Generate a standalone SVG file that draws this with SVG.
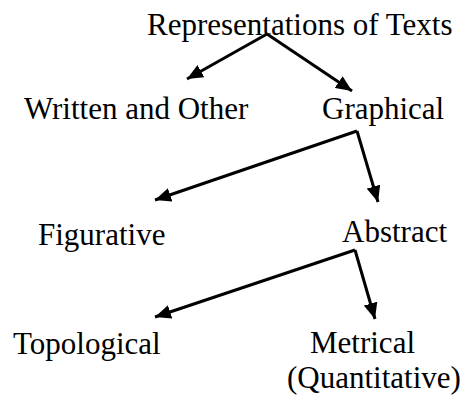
<svg xmlns="http://www.w3.org/2000/svg" width="462" height="398" viewBox="0 0 462 398">
<style>
.t { font-family: 'Liberation Serif', 'Times New Roman', 'DejaVu Serif', serif; font-size: 31px; fill: #000; }
.c { stroke: #000; stroke-width: 3; fill: none; marker-end: url(#ah); }
</style>
<defs>
<marker id="ah" markerUnits="userSpaceOnUse" markerWidth="16" markerHeight="14" refX="16" refY="7" orient="auto">
<path d="M0,0 L16,7 L0,14 z" fill="#000"/>
</marker>
</defs>
<rect width="462" height="398" fill="#fff"/>
<g id="connectors">
<line class="c" x1="267" y1="34" x2="187" y2="79"/>
<line class="c" x1="267" y1="34" x2="352" y2="91"/>
<line class="c" x1="357" y1="131" x2="155" y2="200"/>
<line class="c" x1="357" y1="131" x2="378" y2="202"/>
<line class="c" x1="355" y1="250" x2="155" y2="317"/>
<line class="c" x1="355" y1="250" x2="375" y2="319"/>
</g>
<g id="root"><text class="t" x="147" y="35">Representations of Texts</text></g>
<g id="written"><text class="t" x="24" y="119">Written and Other</text></g>
<g id="graphical"><text class="t" x="322" y="119">Graphical</text></g>
<g id="figurative"><text class="t" x="38" y="245">Figurative</text></g>
<g id="abstract"><text class="t" x="342" y="242">Abstract</text></g>
<g id="topological"><text class="t" x="13" y="354">Topological</text></g>
<g id="metrical"><text class="t" x="310" y="353">Metrical</text><text class="t" x="287" y="388">(Quantitative)</text></g>
</svg>
